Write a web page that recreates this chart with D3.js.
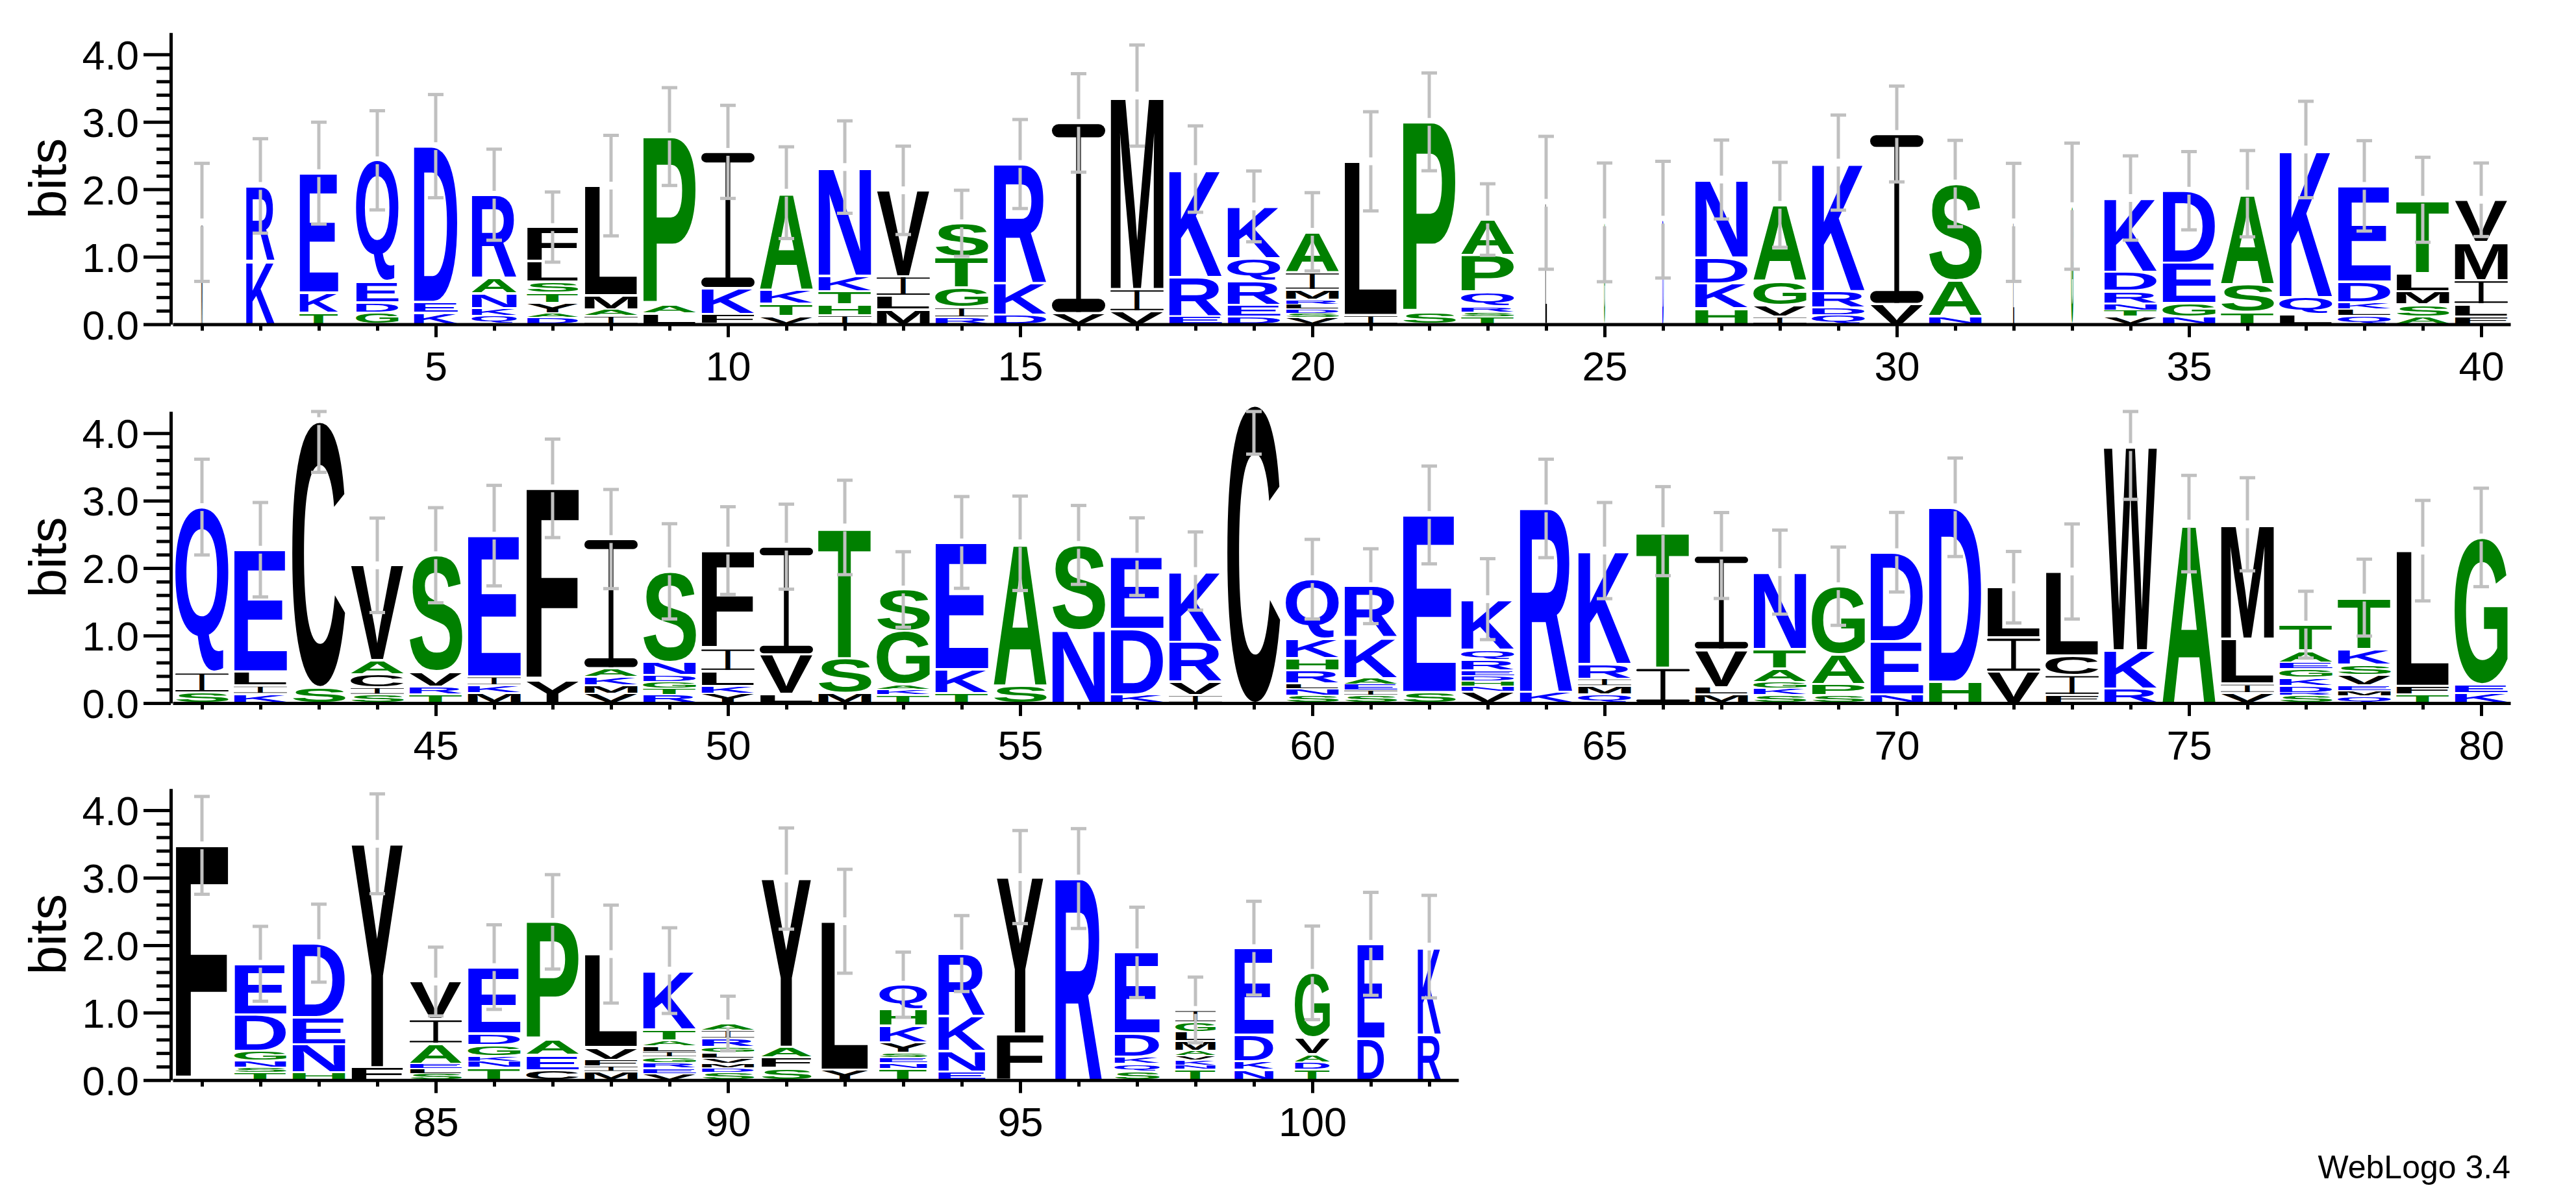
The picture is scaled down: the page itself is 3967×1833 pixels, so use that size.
<!DOCTYPE html>
<html><head><meta charset="utf-8">
<script src="https://cdn.jsdelivr.net/npm/d3@7"></script>
<style>body{margin:0;background:#fff}svg{display:block}</style>
</head><body>
<svg id="chart" width="3967" height="1833"></svg>
<script>
// ---------------- DATA ----------------
// Each stack: letters bottom-to-top with their height in bits
const stacks = [
"M:1.51","K:0.94 R:1.11","T:0.17 K:0.30 E:1.77","G:0.17 D:0.15 E:0.31 Q:1.80","K:0.17 E:0.16 D:2.31",
"Q:0.13 K:0.11 N:0.22 A:0.23 R:1.23","D:0.10 A:0.06 Y:0.155 T:0.15 S:0.165 L:0.30 F:0.51","I:0.125 A:0.09 M:0.21 L:1.63","L:0.157 A:0.135 P:2.49","F:0.15 K:0.385 I:2.02",
"V:0.12 T:0.18 K:0.21 A:1.44","I:0.135 H:0.16 T:0.19 K:0.235 N:1.61","M:0.22 L:0.20 I:0.29 V:1.275","R:0.10 I:0.15 G:0.29 T:0.456 S:0.50","D:0.14 K:0.47 R:1.765",
"V:0.164 I:2.82","V:0.19 I:0.33 M:2.87","E:0.125 R:0.575 K:1.60","D:0.107 E:0.178 R:0.35 Q:0.346 K:0.766","V:0.10 S:0.064 D:0.064 L:0.071 R:0.061 M:0.15 I:0.26 A:0.60",
"I:0.135 L:2.28","S:0.17 P:2.83","T:0.11 S:0.07 R:0.085 Q:0.217 P:0.54 A:0.53","L:1.80","G:1.51",
"D:1.55","H:0.235 K:0.37 D:0.38 N:1.16","I:0.114 V:0.17 G:0.356 A:1.13","Q:0.135 D:0.114 R:0.24 K:1.907","V:0.30 I:2.52",
"N:0.12 A:0.53 S:1.436","L:1.51","G:1.75","V:0.114 T:0.09 N:0.104 R:0.185 D:0.278 K:1.10","N:0.114 G:0.196 E:0.599 D:1.07",
"T:0.185 S:0.41 A:1.34","L:0.15 Q:0.25 K:2.19","Q:0.125 L:0.096 K:0.10 D:0.31 E:1.42","A:0.114 S:0.178 M:0.196 L:0.27 T:1.087","F:0.114 L:0.185 I:0.356 M:0.563 V:0.627",
"S:0.155 I:0.30 Q:2.45","K:0.137 I:0.12 L:0.21 E:1.806","S:0.234 C:3.946","S:0.127 I:0.103 C:0.196 A:0.206 V:1.41","T:0.134 R:0.11 V:0.22 S:1.727",
"M:0.144 K:0.12 I:0.13 E:2.088","Y:0.333 F:2.85","V:0.137 M:0.124 K:0.124 A:0.13 I:1.916","R:0.12 T:0.093 G:0.106 D:0.10 N:0.19 S:1.343","Y:0.137 K:0.117 L:0.22 I:0.337 F:1.449",
"L:0.134 V:0.587 I:1.597","M:0.148 S:0.515 T:1.94","T:0.12 K:0.086 A:0.069 G:0.797 S:0.611","T:0.144 K:0.357 E:1.88","S:0.258 A:2.11",
"N:1.08 S:1.264","K:0.127 D:0.972 E:1.071","I:0.12 V:0.196 R:0.591 K:1.05","C:4.42","S:0.117 N:0.089 L:0.082 R:0.192 H:0.185 K:0.278 Q:0.893",
"S:0.12 I:0.072 E:0.089 A:0.089 K:0.603 R:0.759","S:0.161 E:2.627","V:0.172 N:0.079 H:0.076 D:0.079 E:0.076 R:0.158 Q:0.151 K:0.749","K:0.165 R:2.72","Q:0.13 M:0.124 I:0.107 R:0.216 K:1.683",
"I:0.522 T:2.026","M:0.13 L:0.106 V:0.557 I:1.394","S:0.12 K:0.093 G:0.096 A:0.20 T:0.288 N:1.144","S:0.117 P:0.165 A:0.44 G:1.01","N:0.127 E:0.79 D:1.319",
"H:0.316 D:2.586","V:0.46 I:0.512 L:0.745","F:0.12 I:0.295 C:0.288 L:1.247","R:0.213 K:0.567 W:3.015","A:2.66",
"V:0.15 I:0.137 L:0.663 M:1.70","S:0.117 R:0.038 D:0.10 K:0.117 G:0.13 E:0.10 A:0.175 T:0.385","Q:0.103 M:0.076 E:0.079 V:0.158 S:0.151 K:0.234 T:0.762","T:0.13 F:0.124 L:2.005","K:0.151 E:0.127 G:2.177",
"F:3.48","T:0.109 S:0.077 N:0.096 G:0.153 D:0.536 E:0.753","H:0.112 N:0.415 E:0.405 D:1.098","F:0.19 Y:3.313","S:0.096 L:0.073 E:0.073 A:0.30 I:0.36 V:0.559",
"T:0.185 N:0.089 K:0.08 G:0.166 D:0.169 E:0.986","C:0.147 E:0.223 A:0.233 P:1.743","M:0.128 I:0.08 F:0.093 V:0.185 L:1.382","V:0.096 E:0.08 R:0.08 G:0.089 I:0.08 L:0.08 A:0.08 T:0.163 K:0.875","S:0.115 D:0.07 M:0.064 V:0.077 L:0.08 G:0.086 R:0.124 I:0.124 A:0.099",
"S:0.176 F:0.16 A:0.156 Y:2.496","Y:0.153 L:2.202","T:0.172 N:0.083 E:0.083 S:0.07 Y:0.153 K:0.243 H:0.243 Q:0.367","E:0.128 N:0.306 K:0.52 R:0.922","F:0.69 Y:2.32",
"R:2.988","S:0.134 Q:0.109 K:0.102 D:0.345 E:1.203","T:0.16 N:0.064 K:0.073 V:0.064 A:0.073 M:0.14 L:0.137 G:0.144 I:0.185","N:0.15 K:0.131 D:0.389 E:1.286","T:0.153 D:0.112 A:0.118 V:0.249 G:0.958",
"D:0.619 E:1.401","R:0.677 K:1.302"
];
// error bar half-length (bits) per position
const errors = [
0.875,0.70,0.755,0.735,0.765,0.675,0.52,0.745,0.725,0.69,
0.68,0.685,0.655,0.49,0.66,0.73,0.75,0.64,0.525,0.58,
0.735,0.725,0.53,0.985,0.88,0.865,0.585,0.63,0.705,0.71,
0.64,0.875,0.935,0.625,0.58,0.64,0.715,0.67,0.63,0.545,
0.71,0.70,0.76,0.70,0.705,0.745,0.73,0.735,0.706,0.65,
0.63,0.70,0.56,0.68,0.70,0.585,0.575,0.58,0.73,0.59,
0.555,0.725,0.6,0.73,0.713,0.66,0.637,0.623,0.58,0.59,
0.73,0.53,0.705,0.775,0.715,0.69,0.495,0.57,0.745,0.73,
0.725,0.555,0.578,0.74,0.51,0.627,0.70,0.726,0.635,0.405,
0.75,0.77,0.483,0.563,0.69,0.74,0.67,0.487,0.695,0.694,0.763,0.76
];
// fraction of non-gap symbols in each column (stack width)
const stackWidths = [
0.025,0.54,0.73,0.80,0.83,0.85,0.97,1,1,1,
1,1,1,1,1,1,1,1,1,1,
1,1,1,0.03,0.02,0.025,1,1,1,1,
1,0.02,0.04,1,1,1,1,1,1,1,
1,1,1,1,1,1,1,1,1,1,
1,1,1,1,1,1,1,1,1,1,
1,1,1,1,1,1,1,1,1,1,
1,1,1,1,1,1,1,1,1,1,
1,0.98,1,0.98,0.98,0.99,0.99,1,1,0.99,
0.945,0.89,0.90,0.89,0.89,0.89,0.85,0.76,0.74,0.66,0.51,0.44
];
const rowStarts = [1, 41, 81];
const xTickValues = [5,10,15,20,25,30,35,40,45,50,55,60,65,70,75,80,85,90,95,100];
const yTickValues = [0,1,2,3,4];
const yTickLabels = ["0.0","1.0","2.0","3.0","4.0"];
const yAxisTitle = "bits";
const footer = "WebLogo 3.4";
const hydrophilic = "RKDENQ", neutral = "SGHTAP", hydrophobic = "YVMCLFIW";

// ---------------- LAYOUT ----------------
const svg = d3.select("#chart");
svg.append("rect").attr("width",3967).attr("height",1833).attr("fill","#fff");
const rowBaselines = [499.4, 1082.9, 1663.7];
const bitPx = 103.9;
const yMax = Math.log2(20);
const xLeft = 266, xRight = 3866, perRow = 40, fullStackPx = 82;
const nPos = stacks.length;
const FONT = "'Liberation Sans', Arial, Helvetica, sans-serif";

const colorOf = l => hydrophilic.includes(l) ? "#0000ff" : neutral.includes(l) ? "#008000" : "#000000";
const parse = s => s.split(" ").map(t => { const [l, v] = t.split(":"); return {letter: l, bits: +v}; });

const ctx = document.createElement("canvas").getContext("2d");
ctx.font = "bold 100px 'Liberation Sans'";
const met = {};
"ACDEFGHIKLMNPQRSTVWY".split("").forEach(ch => {
  const m = ctx.measureText(ch);
  met[ch] = {L: m.actualBoundingBoxLeft, R: m.actualBoundingBoxRight, A: m.actualBoundingBoxAscent, D: m.actualBoundingBoxDescent};
});

function fitText(g, ch, x0, y0, w, h, color) {
  const m = met[ch];
  const sx = w / (m.L + m.R), sy = h / (m.A + m.D);
  g.append("text")
    .attr("transform", `translate(${x0 + m.L * sx},${y0 + m.A * sy}) scale(${sx},${sy})`)
    .attr("font-family", FONT).attr("font-weight", "bold").attr("font-size", 100)
    .attr("fill", color).text(ch);
}
function drawLetter(g, ch, x0, y0, w, h, color) {
  if (h <= 0 || w <= 0) return;
  if (ch === "I") {
    const sh = Math.max(h * 0.07, 0.6);
    const sw = Math.min(w, Math.max(w * 0.1, 1));
    const r = Math.min(sh / 2, w / 2);
    g.append("rect").attr("x", x0).attr("y", y0).attr("width", w).attr("height", sh).attr("rx", r).attr("ry", r).attr("fill", color);
    g.append("rect").attr("x", x0).attr("y", y0 + h - sh).attr("width", w).attr("height", sh).attr("rx", r).attr("ry", r).attr("fill", color);
    fitText(g, ch, x0 + (w - sw) / 2, y0, sw, h, color);
  } else {
    fitText(g, ch, x0, y0, w, h, color);
  }
}

rowStarts.forEach((start, r) => {
  const end = Math.min(start + perRow - 1, nPos);
  const base = rowBaselines[r];
  const x = d3.scaleLinear().domain([start - 0.5, start + perRow - 0.5]).range([xLeft, xRight]);
  const y = d3.scaleLinear().domain([0, yMax]).range([base, base - yMax * bitPx]);
  const g = svg.append("g");
  const lg = g.append("g");
  const eg = g.append("g").attr("stroke", "#c0c0c0").attr("stroke-width", 5);

  for (let p = start; p <= end; p++) {
    const i = p - 1;
    const items = parse(stacks[i]);
    const w = fullStackPx * stackWidths[i];
    const x0 = x(p) - w / 2;
    let cum = 0;
    items.forEach(it => {
      const yb = y(cum), yt = y(cum + it.bits);
      cum += it.bits;
      const hpx = yb - yt;
      const inset = Math.min(1.8, hpx * 0.12);
      drawLetter(lg, it.letter, x0, yt + inset, w, hpx - 2 * inset, colorOf(it.letter));
    });
    // error bar
    const top = cum, err = errors[i];
    const hi = Math.min(top + err, yMax), lo = Math.max(top - err, 0);
    const cx = x(p), yT = y(top), gap = 6;
    if (y(hi) < yT - gap) eg.append("line").attr("x1", cx).attr("x2", cx).attr("y1", y(hi)).attr("y2", yT - gap);
    eg.append("line").attr("x1", cx).attr("x2", cx).attr("y1", Math.max(yT + gap, y(hi))).attr("y2", y(lo));
    eg.append("line").attr("x1", cx - 12).attr("x2", cx + 12).attr("y1", y(hi)).attr("y2", y(hi));
    eg.append("line").attr("x1", cx - 12).attr("x2", cx + 12).attr("y1", y(lo)).attr("y2", y(lo));
  }

  // x axis
  const xa = d3.scaleLinear().domain([start - 0.5, end + 0.5]).range([x(start - 0.5), x(end + 0.5)]);
  const axMinor = g.append("g").attr("transform", `translate(0,${base})`)
    .call(d3.axisBottom(xa).tickValues(d3.range(start, end + 1)).tickSize(10).tickSizeOuter(0).tickFormat(""));
  const axMajor = g.append("g").attr("transform", `translate(0,${base})`)
    .call(d3.axisBottom(xa).tickValues(xTickValues.filter(v => v >= start && v <= end)).tickSize(20).tickSizeOuter(0).tickPadding(22).tickFormat(d3.format("d")));
  axMajor.select(".domain").remove();

  // y axis
  const minorVals = d3.range(0, 21).map(k => k * 0.2).filter(v => Math.abs(v - Math.round(v)) > 1e-6);
  const yaMinor = g.append("g").attr("transform", "translate(263,0)")
    .call(d3.axisLeft(y).tickValues(minorVals).tickSize(22).tickSizeOuter(0).tickFormat(""));
  const yaMajor = g.append("g").attr("transform", "translate(263,0)")
    .call(d3.axisLeft(y).tickValues(yTickValues).tickSize(42).tickSizeOuter(0).tickPadding(7).tickFormat((d, k) => yTickLabels[k]));
  yaMajor.select(".domain").remove();
  yaMajor.selectAll("text").attr("dy", "0.36em");

  g.selectAll(".domain, .tick line").attr("stroke", "#000").attr("stroke-width", 5);
  g.selectAll(".tick text").attr("font-size", 63).attr("font-family", FONT).attr("fill", "#000");

  g.append("text").attr("transform", `translate(101,${y(yMax / 2)}) rotate(-90)`)
    .attr("text-anchor", "middle").attr("font-family", FONT).attr("font-size", 80).attr("fill", "#000").text(yAxisTitle);
});

svg.append("text").attr("x", 3866).attr("y", 1815).attr("text-anchor", "end")
  .attr("font-family", FONT).attr("font-size", 50).attr("fill", "#000").text(footer);
</script>
</body></html>
